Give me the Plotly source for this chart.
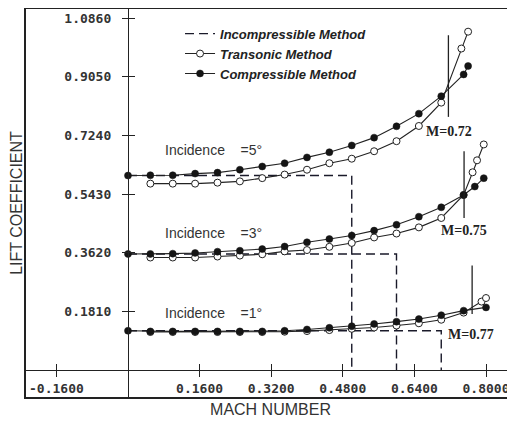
import plotly.graph_objects as go

# ---------------- data ----------------
incidences = ["5", "3", "1"]

# Incompressible method: constant CL, ending at a Mach number (dashed drop to axis)
incomp_cl = [0.600, 0.358, 0.121]
incomp_end_mach = [0.50, 0.60, 0.70]

# Compressible method (filled circles)
comp_mach_5 = [0.0, 0.05, 0.10, 0.15, 0.20, 0.25, 0.30, 0.35, 0.40, 0.45, 0.50, 0.55, 0.60, 0.65, 0.70, 0.75, 0.76]
comp_cl_5 = [0.600, 0.601, 0.601, 0.606, 0.609, 0.618, 0.628, 0.638, 0.656, 0.672, 0.693, 0.717, 0.752, 0.791, 0.845, 0.912, 0.938]
comp_mach_3 = [0.0, 0.05, 0.10, 0.15, 0.20, 0.25, 0.30, 0.35, 0.40, 0.45, 0.50, 0.55, 0.60, 0.65, 0.70, 0.75, 0.775, 0.795]
comp_cl_3 = [0.358, 0.358, 0.359, 0.361, 0.365, 0.368, 0.373, 0.381, 0.394, 0.404, 0.415, 0.430, 0.448, 0.473, 0.502, 0.540, 0.566, 0.592]
comp_mach_1 = [0.0, 0.05, 0.10, 0.15, 0.20, 0.25, 0.30, 0.35, 0.40, 0.45, 0.50, 0.55, 0.60, 0.65, 0.70, 0.75, 0.80]
comp_cl_1 = [0.121, 0.119, 0.119, 0.119, 0.119, 0.119, 0.119, 0.121, 0.125, 0.130, 0.135, 0.142, 0.149, 0.157, 0.169, 0.183, 0.193]

# Transonic method (open circles)
tran_mach_5 = [0.05, 0.10, 0.15, 0.20, 0.25, 0.30, 0.35, 0.40, 0.45, 0.50, 0.55, 0.60, 0.65, 0.70, 0.745, 0.76]
tran_cl_5 = [0.575, 0.575, 0.575, 0.578, 0.582, 0.592, 0.603, 0.618, 0.638, 0.652, 0.675, 0.706, 0.753, 0.825, 0.992, 1.044]
tran_mach_3 = [0.05, 0.10, 0.15, 0.20, 0.25, 0.30, 0.35, 0.40, 0.45, 0.50, 0.55, 0.60, 0.65, 0.70, 0.75, 0.77, 0.78, 0.795]
tran_cl_3 = [0.347, 0.347, 0.347, 0.350, 0.353, 0.357, 0.366, 0.370, 0.380, 0.392, 0.409, 0.421, 0.440, 0.469, 0.540, 0.610, 0.647, 0.696]
tran_mach_1 = [0.05, 0.10, 0.15, 0.20, 0.25, 0.30, 0.35, 0.40, 0.45, 0.50, 0.55, 0.60, 0.65, 0.70, 0.75, 0.79, 0.80]
tran_cl_1 = [0.117, 0.117, 0.117, 0.117, 0.117, 0.117, 0.118, 0.120, 0.123, 0.127, 0.131, 0.137, 0.144, 0.155, 0.177, 0.211, 0.222]

# Critical Mach markers
crit_mach = [0.716, 0.751, 0.769]
crit_top = [1.033, 0.675, 0.322]
crit_bottom = [0.781, 0.469, 0.173]
crit_labels = ["M=0.72", "M=0.75", "M=0.77"]
crit_label_x = [0.717, 0.751, 0.766]
crit_label_y = [0.736, 0.430, 0.108]

incidence_label_y = [0.678, 0.422, 0.177]

x_ticks = [-0.16, 0.16, 0.32, 0.48, 0.64, 0.80]
x_tick_labels = ["-0.1600", "0.1600", "0.3200", "0.4800", "0.6400", "0.8000"]
y_ticks = [0.181, 0.362, 0.543, 0.724, 0.905, 1.086]
y_tick_labels = ["0.1810", "0.3620", "0.5430", "0.7240", "0.9050", "1.0860"]

x_range = [-0.2279, 0.8648]
y_range = [-0.0835, 1.114]

# ---------------- figure ----------------
fig = go.Figure()

for i in range(3):
    fig.add_trace(go.Scatter(
        x=[0, incomp_end_mach[i], incomp_end_mach[i]],
        y=[incomp_cl[i], incomp_cl[i], 0],
        mode="lines", line=dict(color="#1a1a2a", width=1.4, dash="9px,5px"),
        name="Incompressible Method", legendgroup="inc", showlegend=(i == 0),
        hoverinfo="skip"))

tran = [(tran_mach_5, tran_cl_5), (tran_mach_3, tran_cl_3), (tran_mach_1, tran_cl_1)]
comp = [(comp_mach_5, comp_cl_5), (comp_mach_3, comp_cl_3), (comp_mach_1, comp_cl_1)]

for i, (mx, cy) in enumerate(tran):
    fig.add_trace(go.Scatter(
        x=mx, y=cy, mode="lines+markers",
        line=dict(color="#222222", width=1.1),
        marker=dict(symbol="circle", size=7, color="white", line=dict(color="#222222", width=1)),
        name="Transonic Method", legendgroup="tran", showlegend=(i == 0)))

for i, (mx, cy) in enumerate(comp):
    fig.add_trace(go.Scatter(
        x=mx, y=cy, mode="lines+markers",
        line=dict(color="#222222", width=1.1),
        marker=dict(symbol="circle", size=7, color="#151515", line=dict(color="#151515", width=0.5)),
        name="Compressible Method", legendgroup="comp", showlegend=(i == 0)))

for i in range(3):
    fig.add_trace(go.Scatter(
        x=[crit_mach[i], crit_mach[i]], y=[crit_bottom[i], crit_top[i]],
        mode="lines", line=dict(color="#222222", width=1.3),
        showlegend=False, hoverinfo="skip"))

# empty traces so that the axes drawn through the origin exist as subplots
for xa, ya in [("x2", "y2"), ("x3", "y3")]:
    fig.add_trace(go.Scatter(x=[], y=[], xaxis=xa, yaxis=ya, showlegend=False, hoverinfo="skip"))

# annotations
for i in range(3):
    fig.add_annotation(x=crit_label_x[i], y=crit_label_y[i], text=crit_labels[i],
                       showarrow=False, xanchor="center", yanchor="middle",
                       font=dict(family="Liberation Serif", size=14, color="#222222", weight="bold"))
    fig.add_annotation(x=0.078, y=incidence_label_y[i],
                       text="Incidence    =" + incidences[i] + "°",
                       showarrow=False, xanchor="left", yanchor="middle",
                       font=dict(family="Liberation Sans", size=14, color="#333333"))

tickfont = dict(family="DejaVu Sans Mono", size=13, color="#333333", weight="bold")
pos_x = (0 - y_range[0]) / (y_range[1] - y_range[0])
pos_y = (0 - x_range[0]) / (x_range[1] - x_range[0])

# the page body adds an 8px offset, so the figure is sized to fit the window after it
fig.update_layout(
    template="none",
    width=507, height=413,
    margin=dict(l=18, r=0, t=1, b=24, autoexpand=False),
    paper_bgcolor="white", plot_bgcolor="white",
    showlegend=True,
    legend=dict(x=0.315, y=0.975, xanchor="left", yanchor="top",
                bgcolor="rgba(0,0,0,0)", tracegroupgap=0,
                font=dict(family="Liberation Sans", size=13, color="#222222",
                          weight="bold", style="italic")),
    xaxis=dict(range=x_range, showline=True, mirror=True, linecolor="#222222", linewidth=1.5,
               ticks="", showticklabels=False, showgrid=False, zeroline=False, automargin=False,
               title=dict(text="MACH NUMBER", standoff=6,
                          font=dict(family="Liberation Sans", size=16, color="#333333"))),
    yaxis=dict(range=y_range, showline=True, mirror=True, linecolor="#222222", linewidth=1.5,
               ticks="", showticklabels=False, showgrid=False, zeroline=False, automargin=False,
               title=dict(text="LIFT COEFFICIENT", standoff=2,
                          font=dict(family="Liberation Sans", size=16, color="#333333"))),
    xaxis2=dict(overlaying="x", anchor="free", position=pos_x, side="bottom", range=x_range,
                showline=True, linecolor="#222222", linewidth=1.2, automargin=False,
                tickmode="array", tickvals=x_ticks, ticktext=x_tick_labels,
                ticks="outside", ticklen=6, tickcolor="#222222", tickwidth=1,
                tickfont=tickfont, showgrid=False, zeroline=False),
    xaxis3=dict(overlaying="x", anchor="free", position=pos_x, side="bottom", range=x_range,
                showline=False, tickmode="array", tickvals=x_ticks, automargin=False,
                ticks="inside", ticklen=6, tickcolor="#222222", tickwidth=1,
                showticklabels=False, showgrid=False, zeroline=False),
    yaxis2=dict(overlaying="y", anchor="free", position=pos_y, side="left", range=y_range,
                showline=True, linecolor="#222222", linewidth=1.2, automargin=False,
                tickmode="array", tickvals=y_ticks, ticktext=y_tick_labels,
                ticks="outside", ticklen=6, tickcolor="#222222", tickwidth=1,
                ticklabelstandoff=8,
                tickfont=tickfont, showgrid=False, zeroline=False),
    yaxis3=dict(overlaying="y", anchor="free", position=pos_y, side="left", range=y_range,
                showline=False, tickmode="array", tickvals=y_ticks, automargin=False,
                ticks="inside", ticklen=6, tickcolor="#222222", tickwidth=1,
                showticklabels=False, showgrid=False, zeroline=False),
)

fig.write_html("out.html")
